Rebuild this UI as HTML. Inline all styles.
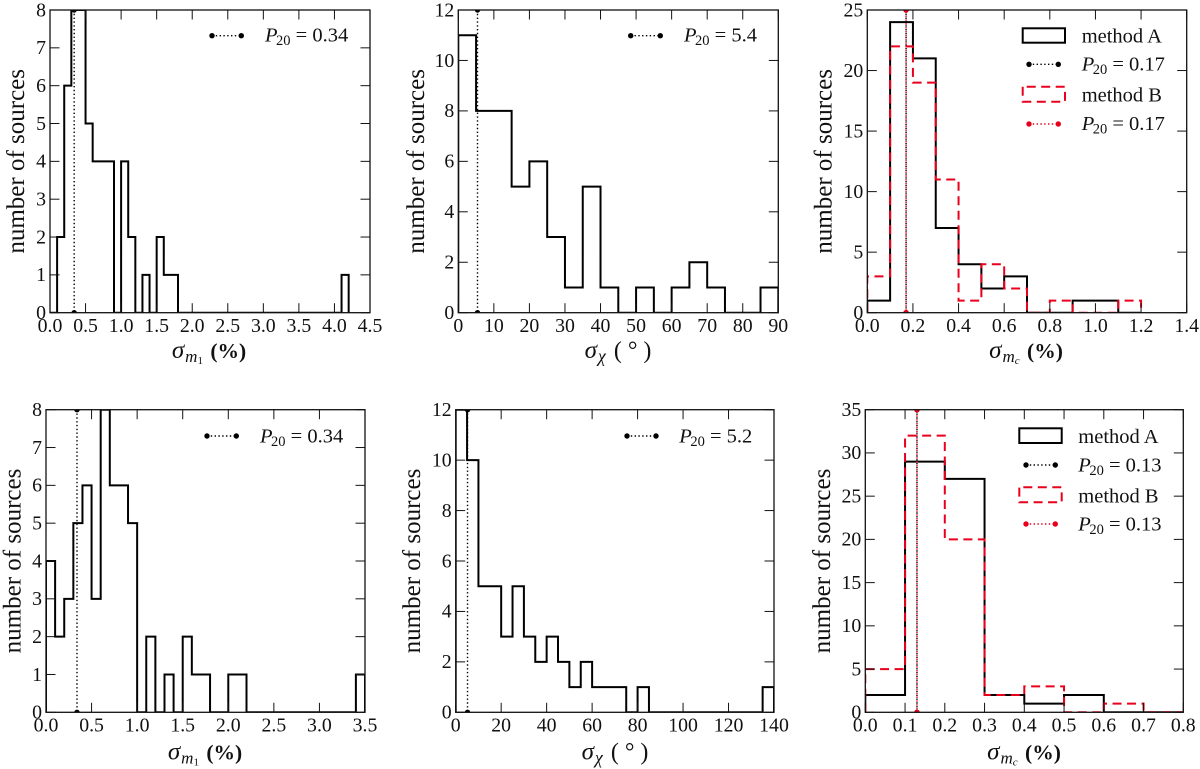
<!DOCTYPE html>
<html lang="en">
<head>
<meta charset="utf-8">
<title>Histograms of source uncertainty</title>
<style>
html,body{margin:0;padding:0;background:#fff;width:1200px;height:769px;overflow:hidden}
svg{display:block;font-family:"Liberation Serif",serif;fill:#111}
</style>
</head>
<body>
<svg id="figure" width="1200" height="769" viewBox="0 0 1200 769" xmlns="http://www.w3.org/2000/svg"></svg>
<script>
/* ---------- chart data ---------- */
const topLeftCounts = [0,2,6,8,8,5,4,4,4,0,4,2,0,1,0,2,1,1,0,0,0,0,0,0,0,0,0,0,0,0,0,0,0,0,0,0,0,0,0,0,0,1];
const topMiddleCounts = [11,8,8,5,6,3,1,5,1,0,1,0,1,2,1,0,0,1];
const topRightCountsA = [1,24,21,7,4,2,3,0,0,1,1,0];
const topRightCountsB = [3,22,19,11,1,4,2,0,1,0,0,1];
const bottomLeftCounts = [4,2,3,5,6,3,8,6,6,5,0,2,0,1,0,2,1,1,0,0,1,1,0,0,0,0,0,0,0,0,0,0,0,0,1];
const bottomMiddleCounts = [12,10,5,5,3,5,3,2,3,2,1,2,1,1,1,0,1,0,0,0,0,0,0,0,0,0,0,1];
const bottomRightCountsA = [2,29,27,2,1,2,0,0];
const bottomRightCountsB = [5,32,20,2,3,0,1,0];

const binWidths = [0.1, 5, 0.1, 0.1, 5, 0.1];
const p20Values = [0.34, 5.4, 0.17, 0.34, 5.2, 0.13];
const p20Labels = ["0.34", "5.4", "0.17", "0.34", "5.2", "0.13"];

const xTicksM1Top = ["0.0","0.5","1.0","1.5","2.0","2.5","3.0","3.5","4.0","4.5"];
const xTicksChiTop = ["0","10","20","30","40","50","60","70","80","90"];
const xTicksMcTop = ["0.0","0.2","0.4","0.6","0.8","1.0","1.2","1.4"];
const xTicksM1Bottom = ["0.0","0.5","1.0","1.5","2.0","2.5","3.0","3.5"];
const xTicksChiBottom = ["0","20","40","60","80","100","120","140"];
const xTicksMcBottom = ["0.0","0.1","0.2","0.3","0.4","0.5","0.6","0.7","0.8"];
const yTicksM1 = ["0","1","2","3","4","5","6","7","8"];
const yTicksChi = ["0","2","4","6","8","10","12"];
const yTicksMcTop = ["0","5","10","15","20","25"];
const yTicksMcBottom = ["0","5","10","15","20","25","30","35"];

/* ---------- layout ---------- */
const NS = "http://www.w3.org/2000/svg";
const svg = document.getElementById("figure");
const RED = "#e8001c";
const TICK_FONT = 19.8;
const DOTS = "1.4 2.4";
const DASH = "9 5.5";

const panels = [
 {id:"top-left",l:50,r:370,t:10,b:312.7,xT:xTicksM1Top,yT:yTicksM1,a:topLeftCounts,bw:0,p:0,kind:"m1",labX:16,xlabY:358,xlabC:209,lg:{x1:212,x2:241.3,y:35.7,tx:265,by:41.7}},
 {id:"top-middle",l:458.3,r:778.3,t:10,b:312.7,xT:xTicksChiTop,yT:yTicksChi,a:topMiddleCounts,bw:1,p:1,kind:"chi",labX:416,xlabY:358,xlabC:618,lg:{x1:630.7,x2:660.3,y:35.7,tx:684,by:41.7}},
 {id:"top-right",l:867.3,r:1186.7,t:10,b:312.7,xT:xTicksMcTop,yT:yTicksMcTop,a:topRightCountsA,b2:topRightCountsB,bw:2,p:2,kind:"mc",labX:823.5,xlabY:358,xlabC:1026,lg2:{rx:1022.7,rw:42.3,tx:1081.7,dx1:1029,dx2:1058.3,y1:28.3,y1b:42.7,d1:64.3,b2:70.7,y2:86.7,y2b:101.7,d2:124,b4:130}},
 {id:"bottom-left",l:46,r:365,t:409.7,b:712.3,xT:xTicksM1Bottom,yT:yTicksM1,a:bottomLeftCounts,bw:3,p:3,kind:"m1",labX:12.5,xlabY:759.7,xlabC:205,lg:{x1:207,x2:236.3,y:436,tx:260,by:442.3}},
 {id:"bottom-middle",l:455.7,r:774,t:409.7,b:712.3,xT:xTicksChiBottom,yT:yTicksChi,a:bottomMiddleCounts,bw:4,p:4,kind:"chi",labX:412,xlabY:759.7,xlabC:615,lg:{x1:627,x2:656,y:436,tx:679.3,by:442.3}},
 {id:"bottom-right",l:865.3,r:1183.3,t:409.7,b:712.3,xT:xTicksMcBottom,yT:yTicksMcBottom,a:bottomRightCountsA,b2:bottomRightCountsB,bw:5,p:5,kind:"mc",labX:822,xlabY:759.7,xlabC:1024,lg2:{rx:1019.3,rw:42.4,tx:1078.3,dx1:1026,dx2:1055.3,y1:428.3,y1b:443,d1:465,b2:471.7,y2:487.3,y2b:502.3,d2:524,b4:530.7}}
];

function mk(tag, attrs, parent){
  const e = document.createElementNS(NS, tag);
  for (const k in attrs) e.setAttribute(k, attrs[k]);
  (parent || svg).appendChild(e);
  return e;
}
function addSpan(parent, txt, attrs){
  const s = mk("tspan", attrs || {}, parent);
  s.textContent = txt;
  return s;
}
function p20Text(g, x, y, label){
  const t = mk("text", {x:x, y:y, "font-size":20.5}, g);
  
  
  addSpan(t, "P", {"font-style":"italic"});
  addSpan(t, "20", {"font-size":14.5, dy:3.5, dx:-1.5});
  addSpan(t, " = " + label, {dy:-3.5});
  return t;
}
function dottedKey(g, x1, x2, y, color){
  const line = mk("line", {x1:x1, x2:x2, y1:y, y2:y, stroke:color, "stroke-width":1.4, "stroke-dasharray":DOTS}, g);
  
  
  const d1 = mk("circle", {cx:x1, cy:y, r:2.7, fill:color}, g);
  
  
  const d2 = mk("circle", {cx:x2, cy:y, r:2.7, fill:color}, g);
  
  
}

panels.forEach(function(P){
  const g = mk("g", {});
  
  

  const xMin = parseFloat(P.xT[0]), xMax = parseFloat(P.xT[P.xT.length-1]);
  const yMin = parseFloat(P.yT[0]), yMax = parseFloat(P.yT[P.yT.length-1]);
  const sx = function(v){ return P.l + (v - xMin) / (xMax - xMin) * (P.r - P.l); };
  const sy = function(v){ return P.b - (v - yMin) / (yMax - yMin) * (P.b - P.t); };

  const clipId = "clip-" + P.id;
  const cp = mk("clipPath", {id:clipId}, g);
  mk("rect", {x:P.l, y:P.t, width:P.r-P.l, height:P.b-P.t}, cp);

  function stepPath(vals){
    const w = binWidths[P.bw];
    let d = "M" + sx(0) + " " + sy(0);
    vals.forEach(function(v, i){
      d += "L" + sx(i*w) + " " + sy(v) + "L" + sx((i+1)*w) + " " + sy(v);
    });
    d += "L" + sx(vals.length*w) + " " + sy(0);
    return d;
  }

  const hist = mk("path", {d:stepPath(P.a), fill:"none", stroke:"#000", "stroke-width":2, "stroke-linejoin":"miter", "clip-path":"url(#"+clipId+")"}, g);
  
  

  const px = sx(p20Values[P.p]);
  const pBlack = mk("line", {x1:px, x2:px, y1:P.t, y2:P.b, stroke:"#000", "stroke-width":1.4, "stroke-dasharray":DOTS}, g);
  
  
  [P.t, P.b].forEach(function(yy){
    const c = mk("circle", {cx:px, cy:yy, r:2.7, fill:"#000", "clip-path":"url(#"+clipId+")"}, g);
    
    
  });

  if (P.b2){
    const h2 = mk("path", {d:stepPath(P.b2), fill:"none", stroke:RED, "stroke-width":2, "stroke-dasharray":DASH, "clip-path":"url(#"+clipId+")"}, g);
    
    
    const pRed = mk("line", {x1:px, x2:px, y1:P.t, y2:P.b, stroke:RED, "stroke-width":1.4, "stroke-dasharray":DOTS, "stroke-dashoffset":1.9}, g);
    
    
    [P.t, P.b].forEach(function(yy){
      const c = mk("circle", {cx:px, cy:yy, r:2.7, fill:RED, "clip-path":"url(#"+clipId+")"}, g);
      
      
    });
  }

  P.xT.forEach(function(lab){
    const v = parseFloat(lab), x = sx(v);
    const t1 = mk("line", {x1:x, x2:x, y1:P.b, y2:P.b-9.5, stroke:"#111", "stroke-width":1}, g);
    
    
    const t2 = mk("line", {x1:x, x2:x, y1:P.t, y2:P.t+9.5, stroke:"#111", "stroke-width":1}, g);
    
    
    const tx = mk("text", {x:x, y:P.b+19.3, "text-anchor":"middle", "font-size":TICK_FONT}, g);
    
    
    tx.textContent = lab;
  });
  P.yT.forEach(function(lab){
    const v = parseFloat(lab), y = sy(v);
    const t1 = mk("line", {x1:P.l, x2:P.l+9.5, y1:y, y2:y, stroke:"#111", "stroke-width":1}, g);
    
    
    const t2 = mk("line", {x1:P.r, x2:P.r-9.5, y1:y, y2:y, stroke:"#111", "stroke-width":1}, g);
    
    
    const tx = mk("text", {x:P.l-4, y:y+6.3, "text-anchor":"end", "font-size":TICK_FONT}, g);
    
    
    tx.textContent = lab;
  });

  const frame = mk("rect", {x:P.l, y:P.t, width:P.r-P.l, height:P.b-P.t, fill:"none", stroke:"#111", "stroke-width":1.3}, g);
  
  

  const cy = (P.t + P.b) / 2;
  const yl = mk("text", {x:P.labX + 8, y:cy, "text-anchor":"middle", "font-size":25, transform:"rotate(-90 " + (P.labX+8) + " " + cy + ")"}, g);
  
  
  yl.textContent = "number of sources";

  const xl = mk("text", {x:P.xlabC, y:P.xlabY, "text-anchor":"middle", "font-size":25}, g);
  
  
  addSpan(xl, "σ", {"font-style":"italic"});
  if (P.kind === "chi"){
    addSpan(xl, "χ", {"font-style":"italic", "font-size":18, dy:4, dx:1});
    addSpan(xl, " ( ° )", {dy:-4, dx:2, "font-size":24});
  } else {
    addSpan(xl, "m", {"font-style":"italic", "font-size":17, dy:4, dx:1});
    addSpan(xl, P.kind === "m1" ? "1" : "c", {"font-size":11, dy:2, "font-style":P.kind === "m1" ? "normal" : "italic"});
    addSpan(xl, " (%)", {dy:-6, "font-weight":"bold", dx:2, "font-size":21.5});
  }

  const legend = mk("g", {}, g);
  
  
  if (P.lg){
    dottedKey(legend, P.lg.x1, P.lg.x2, P.lg.y, "#000");
    p20Text(legend, P.lg.tx, P.lg.by, p20Labels[P.p]);
  } else {
    const L = P.lg2;
    const r1 = mk("rect", {x:L.rx, y:L.y1, width:L.rw, height:L.y1b-L.y1, fill:"none", stroke:"#000", "stroke-width":2}, legend);
    
    
    const t1 = mk("text", {x:L.tx, y:L.y1b, "font-size":20.5}, legend);
    
    
    t1.textContent = "method A";
    dottedKey(legend, L.dx1, L.dx2, L.d1, "#000");
    p20Text(legend, L.tx, L.b2, p20Labels[P.p]);
    const r2 = mk("rect", {x:L.rx, y:L.y2, width:L.rw, height:L.y2b-L.y2, fill:"none", stroke:RED, "stroke-width":2, "stroke-dasharray":DASH, "stroke-dashoffset":-4}, legend);
    
    
    const t2 = mk("text", {x:L.tx, y:L.y2b, "font-size":20.5}, legend);
    
    
    t2.textContent = "method B";
    dottedKey(legend, L.dx1, L.dx2, L.d2, RED);
    p20Text(legend, L.tx, L.b4, p20Labels[P.p]);
  }
});
</script>
</body>
</html>
